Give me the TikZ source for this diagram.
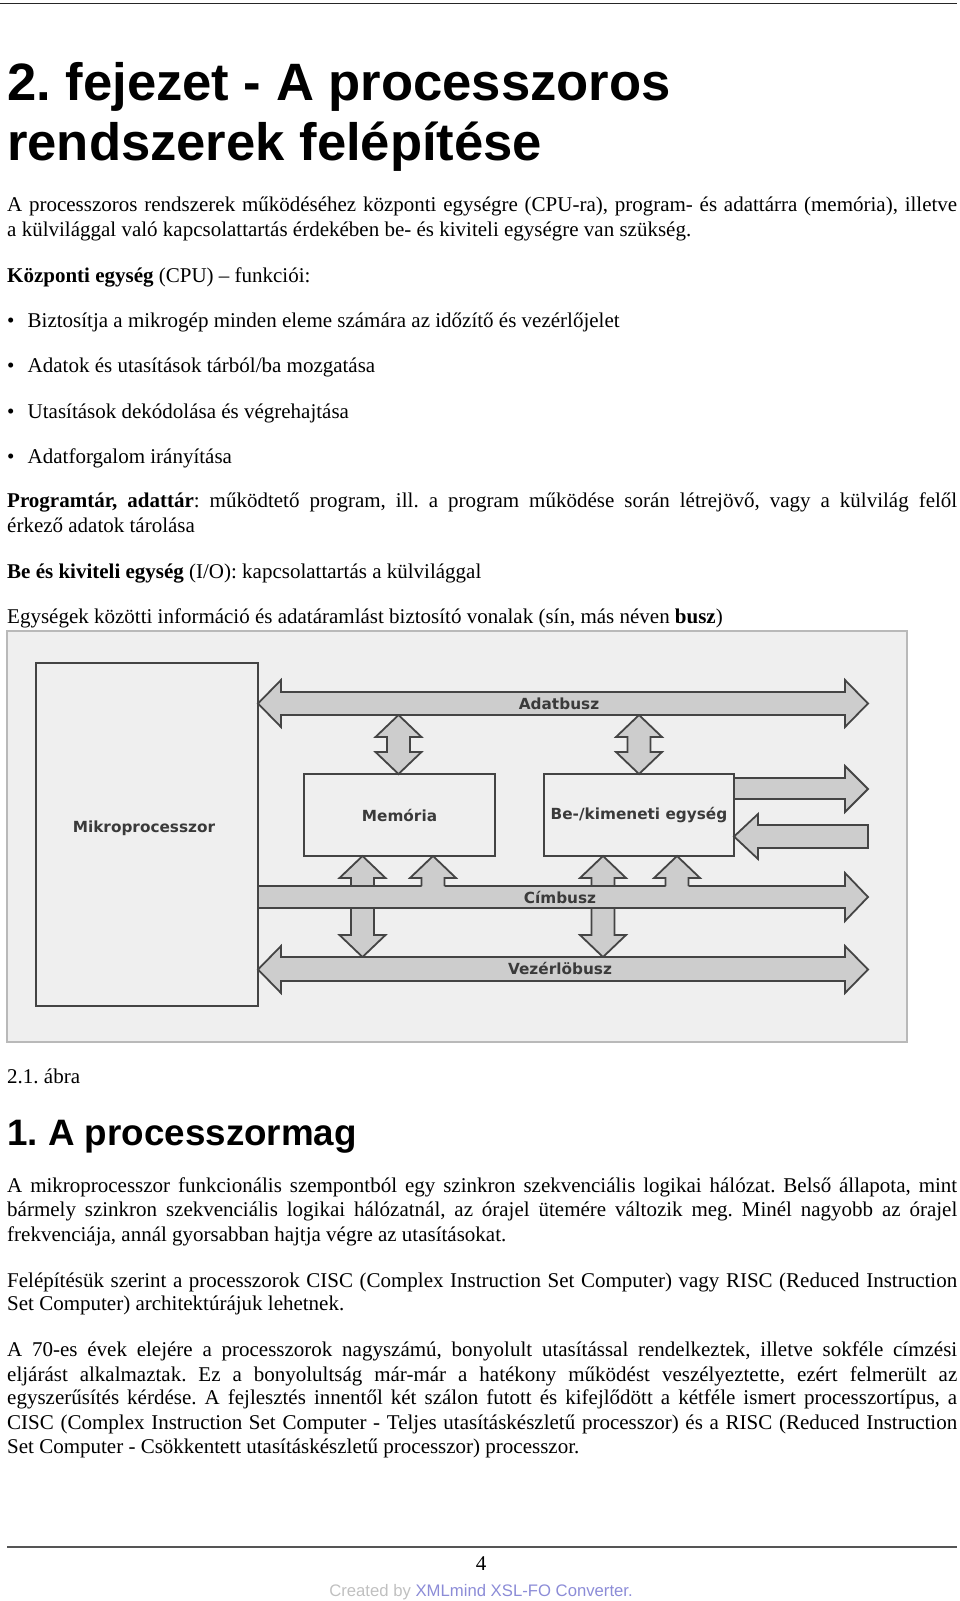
\documentclass[tikz,border=0pt]{standalone}
\usepackage{fontspec}
\setmainfont{Liberation Serif}
\setsansfont{Liberation Sans}
\newfontfamily\diagfont{DejaVu Sans}
\usetikzlibrary{calc}
\frenchspacing

\definecolor{pagebg}{RGB}{239,239,239}
\definecolor{arrowgray}{RGB}{205,205,205}
\definecolor{edgegray}{RGB}{68,68,68}
\definecolor{labelgray}{RGB}{58,58,58}
\definecolor{framegray}{RGB}{185,185,185}
\definecolor{rulegray}{RGB}{85,85,85}
\definecolor{fadegray}{RGB}{192,192,192}
\definecolor{fadeblue}{RGB}{140,140,215}

\tikzset{
  txt/.style={anchor=base west, inner sep=0pt, font=\fontsize{21}{24.5}\selectfont},
  bigtitle/.style={anchor=base west, inner sep=0pt, font=\sffamily\bfseries\fontsize{52.6}{52}\selectfont},
  subtitle/.style={anchor=base west, inner sep=0pt, font=\sffamily\bfseries\fontsize{36.8}{40}\selectfont},
  unitbox/.style={draw=edgegray, fill=pagebg, line width=1.8pt, inner sep=0pt, outer sep=0pt,
    font=\diagfont\bfseries\fontsize{15.3}{15}\selectfont, text=labelgray},
  busarrow/.style={draw=edgegray, fill=arrowgray, line width=1.8pt},
  busedge/.style={draw=edgegray, line width=1.8pt},
  buslabel/.style={inner sep=0pt, font=\diagfont\bfseries\fontsize{15.3}{15}\selectfont, text=labelgray}
}

\begin{document}
\begin{tikzpicture}[x=1pt,y=-1pt]
\useasboundingbox (0,0) rectangle (960,1601);

\draw [line width=1.5pt, black!85] (0,3.5) -- (957,3.5);

\node at(7,100.5) [bigtitle] (titlea) {2. fejezet - A processzoros};
\node at(7,160) [bigtitle] (titleb) {rendszerek felépítése};

\node at(7,211) [txt] (introa) {\makebox[950pt][s]{A processzoros rendszerek működéséhez központi egységre (CPU-ra), program- és adattárra (memória), illetve}};
\node at(7,236) [txt] (introb) {a külvilággal való kapcsolattartás érdekében be- és kiviteli egységre van szükség.};

\node at(7,282) [txt] (cpuhead) {\textbf{Központi egység} (CPU) – funkciói:};

\node at(7,327) [txt] (dota) {•};
\node at(27.5,327) [txt] (bula) {Biztosítja a mikrogép minden eleme számára az időzítő és vezérlőjelet};
\node at(7,372) [txt] (dotb) {•};
\node at(27.5,372) [txt] (bulb) {Adatok és utasítások tárból/ba mozgatása};
\node at(7,418) [txt] (dotc) {•};
\node at(27.5,418) [txt] (bulc) {Utasítások dekódolása és végrehajtása};
\node at(7,463) [txt] (dotd) {•};
\node at(27.5,463) [txt] (buld) {Adatforgalom irányítása};

\node at(7,507) [txt] (storea) {\makebox[950pt][s]{\textbf{Programtár, adattár}: működtető program, ill. a program működése során létrejövő, vagy a külvilág felől}};
\node at(7,532) [txt] (storeb) {érkező adatok tárolása};

\node at(7,578) [txt] (iohead) {\textbf{Be és kiviteli egység} (I/O): kapcsolattartás a külvilággal};

\node at(7,623) [txt] (bushead) {Egységek közötti információ és adatáramlást biztosító vonalak (sín, más néven \textbf{busz})};

%-----------------------------------------------------
% the figure
\draw [framegray, fill=pagebg, line width=1.5pt] (7,631) rectangle (907,1042);

\node at(147,834.5) [unitbox, minimum width=222pt, minimum height=343pt] (cpu) {};
\node at(144,828) [buslabel] (cpulabel) {Mikroprocesszor};
\node at(399.5,815) [unitbox, minimum width=191pt, minimum height=82pt] (mem) {Memória};
\node at(639,815) [unitbox, minimum width=190pt, minimum height=82pt] (io) {Be-/kimeneti egység};

% Adatbusz <-> units
\draw [busarrow] (398.5,715) -- (421.5,737) -- (410,737) -- (410,752) -- (421.5,752) -- (398.5,774) -- (375.5,752) -- (387,752) -- (387,737) -- (375.5,737) -- cycle;
\draw [busarrow] (639,715) -- (662,737) -- (650.5,737) -- (650.5,752) -- (662,752) -- (639,774) -- (616,752) -- (627.5,752) -- (627.5,737) -- (616,737) -- cycle;

% units <-> Vezerlobusz
\draw [busarrow] (362.5,856) -- (385.5,878) -- (374,878) -- (374,935) -- (385.5,935) -- (362.5,957) -- (339.5,935) -- (351,935) -- (351,878) -- (339.5,878) -- cycle;
\draw [busarrow] (603,856) -- (626,878) -- (614.5,878) -- (614.5,935) -- (626,935) -- (603,957) -- (580,935) -- (591.5,935) -- (591.5,878) -- (580,878) -- cycle;

% buses
\draw [busarrow] (258,703.5) -- (281,680) -- (281,692) -- (845,692) -- (845,680) -- (868,703.5) -- (845,727) -- (845,715) -- (281,715) -- (281,727) -- cycle;
\draw [busarrow] (258,886) -- (845,886) -- (845,873) -- (868,897) -- (845,921) -- (845,908) -- (258,908) -- cycle;
\draw [busarrow] (258,969.5) -- (281,946) -- (281,957) -- (845,957) -- (845,946) -- (868,969.5) -- (845,993) -- (845,981) -- (281,981) -- (281,993) -- cycle;

% outside world
\draw [busarrow] (734,778) -- (845,778) -- (845,766) -- (868,789) -- (845,812) -- (845,799) -- (734,799) -- cycle;
\draw [busarrow] (868,825) -- (758,825) -- (758,814) -- (734,836.5) -- (758,859) -- (758,848) -- (868,848) -- cycle;

% Cimbusz -> units
\fill [arrowgray] (421.5,889) -- (421.5,878) -- (410,878) -- (433,856) -- (456,878) -- (444.5,878) -- (444.5,889) -- cycle;
\draw [busedge] (421.5,886) -- (421.5,878) -- (410,878) -- (433,856) -- (456,878) -- (444.5,878) -- (444.5,886);
\fill [arrowgray] (665.5,889) -- (665.5,878) -- (654,878) -- (677,856) -- (700,878) -- (688.5,878) -- (688.5,889) -- cycle;
\draw [busedge] (665.5,886) -- (665.5,878) -- (654,878) -- (677,856) -- (700,878) -- (688.5,878) -- (688.5,886);

\node at(559,704) [buslabel] (datalabel) {Adatbusz};
\node at(560,897) [buslabel] (addrlabel) {Címbusz};
\node at(560,968) [buslabel] (ctrllabel) {Vezérlöbusz};

%-----------------------------------------------------
\node at(7,1083) [txt] (caption) {2.1. ábra};

\node at(7,1145) [subtitle] (coretitle) {1. A processzormag};

\node at(7,1192) [txt] (corea) {\makebox[950pt][s]{A mikroprocesszor funkcionális szempontból egy szinkron szekvenciális logikai hálózat. Belső állapota, mint}};
\node at(7,1216) [txt] (coreb) {\makebox[950pt][s]{bármely szinkron szekvenciális logikai hálózatnál, az órajel ütemére változik meg. Minél nagyobb az órajel}};
\node at(7,1241) [txt] (corec) {frekvenciája, annál gyorsabban hajtja végre az utasításokat.};

\node at(7,1287) [txt] (archa) {\makebox[950pt][s]{Felépítésük szerint a processzorok CISC (Complex Instruction Set Computer) vagy RISC (Reduced Instruction}};
\node at(7,1310) [txt] (archb) {Set Computer) architektúrájuk lehetnek.};

\node at(7,1356) [txt] (hista) {\makebox[950pt][s]{A 70-es évek elejére a processzorok nagyszámú, bonyolult utasítással rendelkeztek, illetve sokféle címzési}};
\node at(7,1381) [txt] (histb) {\makebox[950pt][s]{eljárást alkalmaztak. Ez a bonyolultság már-már a hatékony működést veszélyeztette, ezért felmerült az}};
\node at(7,1404) [txt] (histc) {\makebox[950pt][s]{egyszerűsítés kérdése. A fejlesztés innentől két szálon futott és kifejlődött a kétféle ismert processzortípus, a}};
\node at(7,1429) [txt] (histd) {\makebox[950pt][s]{CISC (Complex Instruction Set Computer - Teljes utasításkészletű processzor) és a RISC (Reduced Instruction}};
\node at(7,1453) [txt] (histe) {Set Computer - Csökkentett utasításkészletű processzor) processzor.};

%-----------------------------------------------------
\draw [line width=2.5pt, rulegray] (7,1547) -- (957,1547);
\node at(481,1570.5) [txt, anchor=base] (pagenum) {4};
\node at(481,1596) [inner sep=0pt, anchor=base, font=\sffamily\fontsize{16.7}{18}\selectfont] (footer) {\textcolor{fadegray}{Created by} \textcolor{fadeblue}{XMLmind XSL-FO Converter.}};

\end{tikzpicture}
\end{document}
